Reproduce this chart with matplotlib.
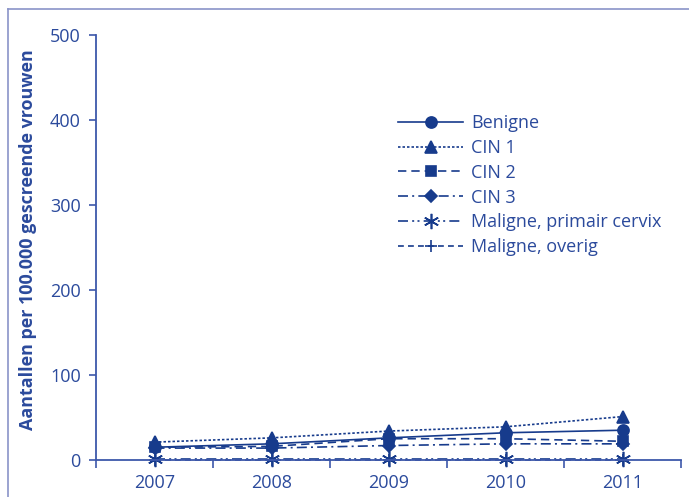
import matplotlib
matplotlib.use("Agg")
import matplotlib.pyplot as plt
from matplotlib.lines import Line2D

years = ["2007", "2008", "2009", "2010", "2011"]
benigne = [15, 19, 26, 32, 35]
cin1 = [21, 26, 34, 39, 51]
cin2 = [15, 16, 25, 25, 22]
cin3 = [14, 14, 17, 19, 19]
maligne_cervix = [1, 1, 1, 1, 1]
maligne_overig = [0.3, 0.3, 0.3, 0.3, 0.3]

series_names = ["Benigne", "CIN 1", "CIN 2", "CIN 3",
                "Maligne, primair cervix", "Maligne, overig"]
series_values = [benigne, cin1, cin2, cin3, maligne_cervix, maligne_overig]

plt.rcParams['font.family'] = ['Open Sans', 'DejaVu Sans']

TEXT = '#2b4a9c'
MARK = '#173b8c'
AXC = '#3d58aa'

styles = [
    dict(marker='o', linestyle='-', ms=8),
    dict(marker='^', linestyle=(0, (1.5, 1.2)), ms=8),
    dict(marker='s', linestyle=(0, (5, 3)), ms=7),
    dict(marker='D', linestyle=(0, (6, 2.5, 1.2, 2.5)), ms=6),
    dict(marker=(6, 2, 0), linestyle=(0, (6, 2.5, 1.2, 2, 1.2, 2.5)), ms=11),
    dict(marker='+', linestyle=(0, (3.5, 2.5)), ms=9),
]

fig = plt.figure(figsize=(6.89, 4.97), dpi=100)
ax = fig.add_axes([96/689, 1 - 460/497, (681-96)/689, (460-34.5)/497])

x = list(range(len(years)))
for name, vals, st in zip(series_names, series_values, styles):
    ax.plot(x, vals, color=MARK, lw=1.2, linestyle=st['linestyle'],
            marker=st['marker'], markersize=st['ms'], markeredgewidth=1.2,
            markerfacecolor=MARK, markeredgecolor=MARK, label=name,
            clip_on=False)

ax.set_xlim(-0.5, len(years) - 0.5)
ax.set_ylim(0, 500)
ax.set_yticks([0, 100, 200, 300, 400, 500])
ax.set_xticks(x)
ax.set_xticklabels(years)
ax.set_xticks([i - 0.5 for i in range(len(years) + 1)], minor=True)
ax.tick_params(axis='x', which='major', length=0, labelsize=13, labelcolor=TEXT, pad=10)
ax.tick_params(axis='x', which='minor', length=6, width=1.2, color=AXC, direction='out')
ax.tick_params(axis='y', length=5, width=1.2, color=AXC, labelsize=13, labelcolor=TEXT, pad=6)

for s in ['top', 'right']:
    ax.spines[s].set_visible(False)
for s in ['left', 'bottom']:
    ax.spines[s].set_color(AXC)
    ax.spines[s].set_linewidth(1.3)

ax.set_ylabel("Aantallen per 100.000 gescreende vrouwen", fontsize=12.9,
              fontweight='bold', color=TEXT)
ax.yaxis.set_label_coords(-0.101, 0.517)

leg = fig.legend(loc='upper left', bbox_to_anchor=(398/689, 1 - 114/497),
                 frameon=False, fontsize=13, handlelength=3.6,
                 handletextpad=0.45, labelspacing=0.38, borderpad=0,
                 borderaxespad=0)
for t in leg.get_texts():
    t.set_color(TEXT)

# figure border (left and top)
fig.add_artist(Line2D([8/689, 8/689], [0, 1 - 9/497], transform=fig.transFigure,
                      color='#8a93c8', lw=1.2))
fig.add_artist(Line2D([8/689, 1], [1 - 9/497, 1 - 9/497], transform=fig.transFigure,
                      color='#8a93c8', lw=1.2))

fig.savefig("out.png", dpi=100)
